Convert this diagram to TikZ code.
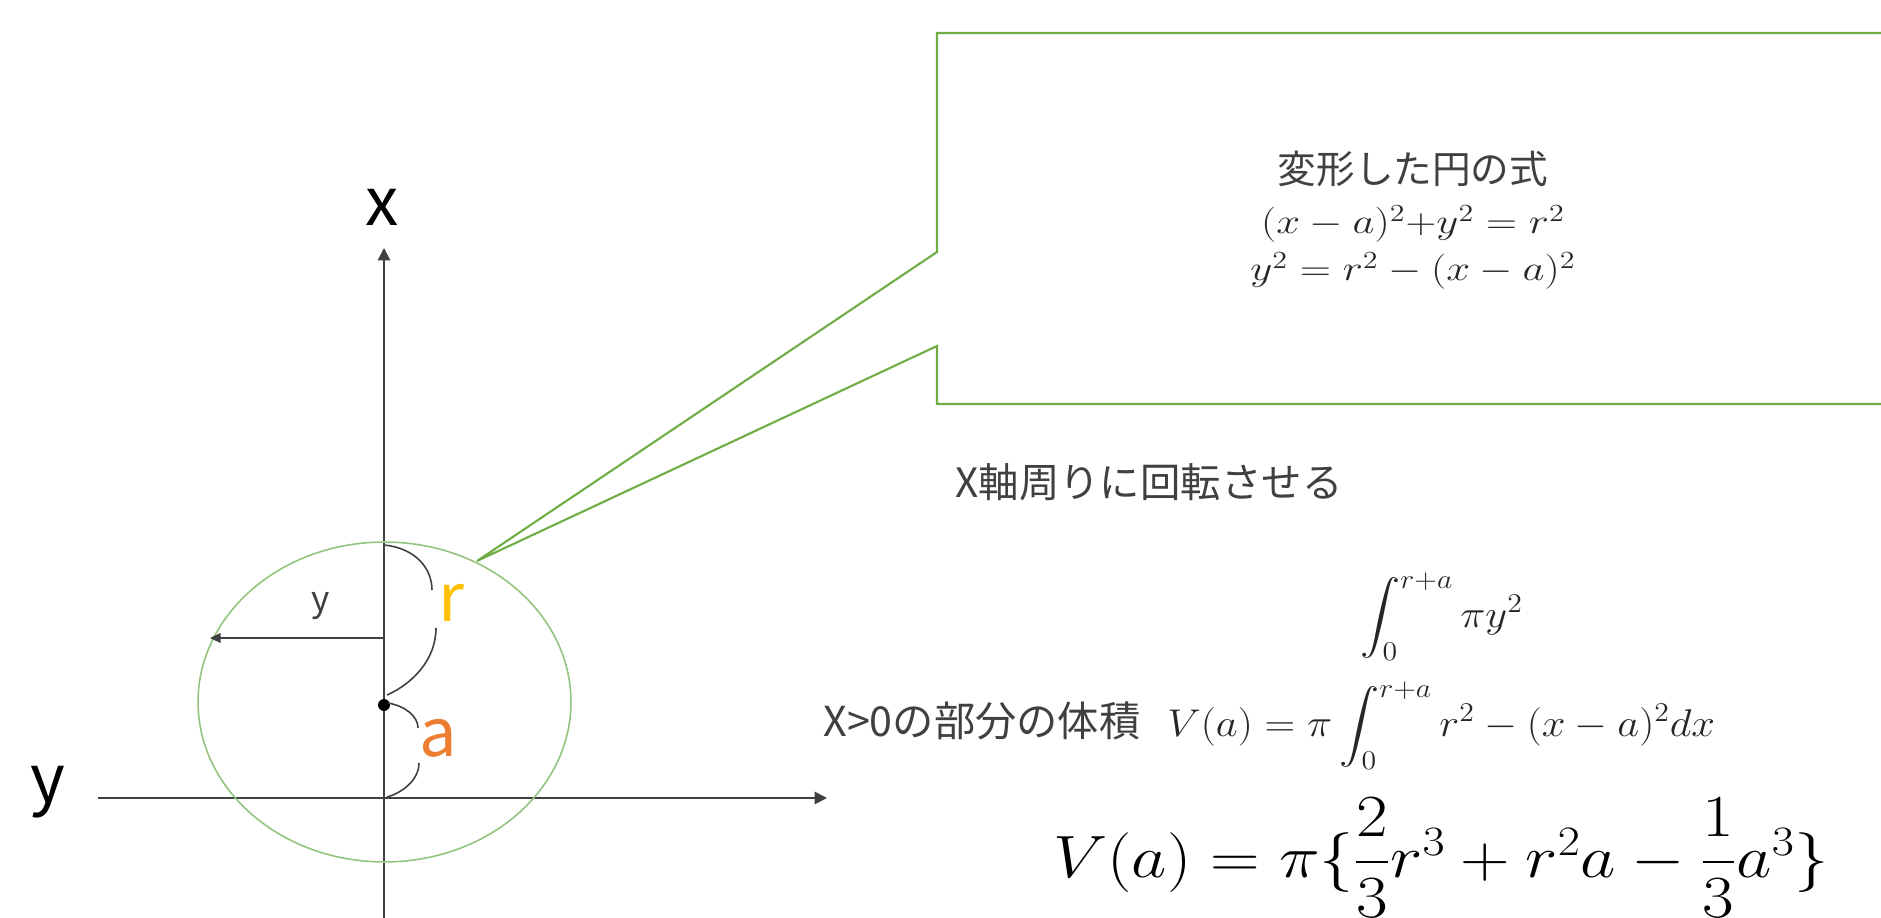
\RequirePackage{fix-cm}
\documentclass[tikz,border=0pt]{standalone}
\usepackage{amsmath}
\usepackage{graphicx}
\usepackage{fontspec}
\setmainfont{Noto Sans CJK JP}
\usetikzlibrary{arrows.meta,shapes.geometric}
\definecolor{axisgray}{HTML}{404040}
\definecolor{txtgray}{HTML}{404040}
\definecolor{boxgreen}{HTML}{70AD47}
\definecolor{circgreen}{HTML}{93C47D}
\definecolor{rcol}{HTML}{FFC000}
\definecolor{acol}{HTML}{ED7D31}
\newcommand{\fsz}[1]{\fontsize{#1}{#1}\selectfont}
\begin{document}
\begin{tikzpicture}[x=0.02cm,y=-0.02cm,
  axisline/.style={draw=axisgray,line width=1.1pt,-{Triangle[length=7pt,width=7pt]}},
  yarrow/.style={draw=axisgray,line width=1.0pt,-{Triangle[length=6pt,width=5.5pt]}},
  bracecurve/.style={draw=axisgray,line width=0.9pt},
  callout/.style={draw=boxgreen,line width=1.2pt},
  lbl/.style={inner sep=0pt,text=black},
  gtext/.style={inner sep=0pt,text=txtgray},
  mtext/.style={inner sep=0pt,text=black!85}]
\useasboundingbox (0,0) rectangle (1881,918);
\begin{scope}
\clip (0,0) rectangle (1881,918);
% axes
\coordinate (xbot) at (384,925);
\coordinate (xtop) at (384,248);
\coordinate (yleft) at (98,798);
\coordinate (yright) at (827,798);
\draw[axisline] (xbot) -- (xtop);
\draw[axisline] (yleft) -- (yright);
\node[lbl,font=\fsz{38pt}] (xl) at (382,207) {x};
\node[lbl,font=\fsz{38pt}] (yl) at (48,792) {y};
% circle
\node[draw=circgreen,line width=0.9pt,ellipse,inner sep=0pt,minimum width=7.46cm,minimum height=6.4cm] (circ) at (384.5,702) {};
% centre dot
\node[circle,fill=black,inner sep=0pt,minimum size=0.24cm] (cdot) at (384,705) {};
% y arrow
\coordinate (ystart) at (384,638);
\coordinate (yend) at (210,638);
\draw[yarrow] (ystart) -- (yend);
\node[lbl,text=axisgray,font=\fsz{20pt}] (ysmall) at (321,606) {y};
% braces
\coordinate (r1) at (384,545);
\coordinate (r2) at (432,590);
\coordinate (r3) at (436,628);
\coordinate (r4) at (387,695);
\coordinate (a1) at (388,703);
\coordinate (a2) at (418,728);
\coordinate (a3) at (419,763);
\coordinate (a4) at (387,797);
\draw[bracecurve] (r1) .. controls (415,548) and (432,568) .. (r2);
\draw[bracecurve] (r3) .. controls (436,660) and (412,684) .. (r4);
\draw[bracecurve] (a1) .. controls (405,706) and (418,716) .. (a2);
\draw[bracecurve] (a3) .. controls (419,780) and (402,793) .. (a4);
\node[lbl,text=rcol,font=\fsz{38pt}] (rl) at (451,603) {r};
\node[lbl,text=acol,font=\fsz{38pt}] (al) at (438,738) {a};
% callout
\coordinate (tip) at (477,561);
\coordinate (c1) at (937,33);
\coordinate (c2) at (1900,33);
\coordinate (c3) at (1900,404);
\coordinate (c4) at (937,404);
\coordinate (c5) at (937,346);
\coordinate (c6) at (937,252);
\draw[callout] (c1) -- (c2) -- (c3) -- (c4) -- (c5) -- (tip) -- (c6) -- cycle;
\node[gtext,anchor=base,font=\fsz{22pt}] (title) at (1413,184) {変形した円の式};
\node[mtext,anchor=base,font=\fsz{20pt}] (eq1) at (1413,234) {\scalebox{1.22}[1]{$(x-a)^2{+}y^2=r^2$}};
\node[mtext,anchor=base,font=\fsz{20pt}] (eq2) at (1413,281) {\scalebox{1.22}[1]{$y^2=r^2-(x-a)^2$}};
% rotation text
\node[gtext,font=\fsz{23pt}] (rot) at (1149,482) {X軸周りに回転させる};
% integrals
\node[mtext,anchor=base west,font=\fsz{22pt}] (int1) at (1360,628) {\scalebox{1.1}[1]{$\displaystyle\int_0^{r+a}\pi y^2$}};
\node[gtext,anchor=base west,font=\fsz{23.5pt}] (vol) at (823,737) {X>0の部分の体積};
\node[mtext,anchor=base west,font=\fsz{22pt}] (volm) at (1167,737) {\scalebox{1.1}[1]{$V(a)=\pi\displaystyle\int_0^{r+a} r^2-(x-a)^2dx$}};
% result
\node[lbl,anchor=base west,font=\fsz{34pt}] (big) at (1053,877) {\scalebox{1.15}[1]{$V(a)=\pi\{\dfrac{2}{3}r^3+r^2a-\dfrac{1}{3}a^3\}$}};
\end{scope}
\end{tikzpicture}
\end{document}
